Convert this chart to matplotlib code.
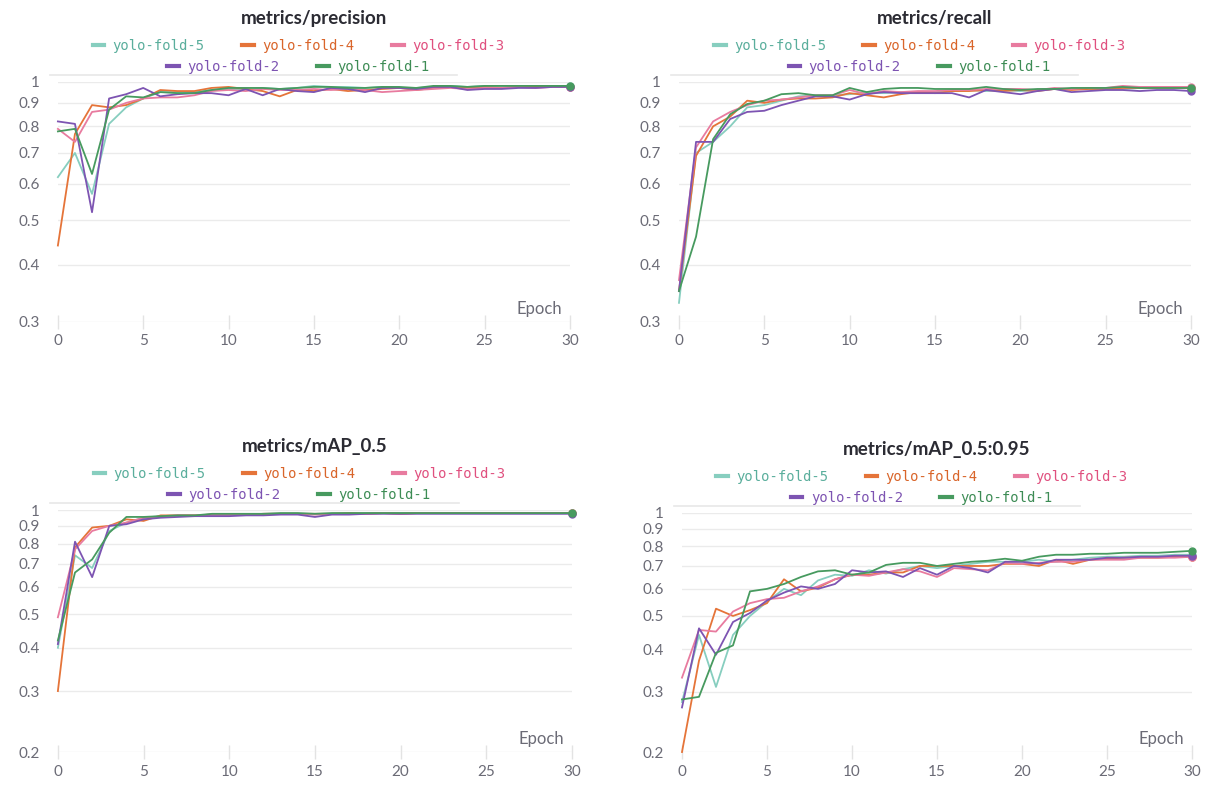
import numpy as np
import matplotlib
matplotlib.use("Agg")
import matplotlib.pyplot as plt
from matplotlib.lines import Line2D

# data (epoch 0..30)
epochs = np.arange(31)
runs = ["yolo-fold-5", "yolo-fold-4", "yolo-fold-3", "yolo-fold-2", "yolo-fold-1"]
line_colors = ["#87CEBF", "#E57439", "#E87B9F", "#7D54B2", "#479A5F"]
text_colors = ["#5aae9c", "#d9652a", "#e0507f", "#7d54b2", "#3d8c55"]

precision = [
    [0.62, 0.70, 0.57, 0.81, 0.88, 0.92, 0.95, 0.95, 0.95, 0.96, 0.965, 0.96, 0.97, 0.965, 0.97, 0.98,
     0.975, 0.975, 0.97, 0.975, 0.97, 0.97, 0.975, 0.98, 0.975, 0.98, 0.98, 0.98, 0.98, 0.98, 0.98],
    [0.44, 0.77, 0.89, 0.88, 0.89, 0.92, 0.96, 0.955, 0.955, 0.97, 0.975, 0.965, 0.955, 0.93, 0.96, 0.955,
     0.965, 0.955, 0.96, 0.965, 0.97, 0.96, 0.97, 0.975, 0.97, 0.975, 0.97, 0.975, 0.975, 0.975, 0.975],
    [0.79, 0.74, 0.86, 0.87, 0.90, 0.92, 0.925, 0.925, 0.935, 0.955, 0.96, 0.955, 0.965, 0.96, 0.96, 0.965,
     0.96, 0.965, 0.96, 0.95, 0.955, 0.96, 0.965, 0.97, 0.965, 0.97, 0.97, 0.975, 0.97, 0.975, 0.975],
    [0.82, 0.81, 0.52, 0.92, 0.94, 0.97, 0.93, 0.94, 0.945, 0.945, 0.935, 0.965, 0.935, 0.965, 0.955, 0.95,
     0.97, 0.965, 0.95, 0.97, 0.97, 0.965, 0.975, 0.975, 0.96, 0.965, 0.965, 0.97, 0.97, 0.975, 0.975],
    [0.78, 0.79, 0.63, 0.87, 0.93, 0.925, 0.95, 0.945, 0.945, 0.96, 0.97, 0.97, 0.97, 0.965, 0.97, 0.975,
     0.975, 0.97, 0.97, 0.975, 0.975, 0.97, 0.98, 0.98, 0.975, 0.98, 0.98, 0.98, 0.98, 0.98, 0.98],
]

recall = [
    [0.33, 0.70, 0.74, 0.80, 0.88, 0.89, 0.91, 0.93, 0.935, 0.935, 0.94, 0.95, 0.945, 0.95, 0.95, 0.95,
     0.955, 0.96, 0.955, 0.96, 0.955, 0.96, 0.965, 0.965, 0.965, 0.965, 0.965, 0.97, 0.97, 0.97, 0.97],
    [0.35, 0.69, 0.80, 0.84, 0.91, 0.90, 0.915, 0.92, 0.92, 0.925, 0.945, 0.935, 0.925, 0.94, 0.95, 0.945,
     0.955, 0.955, 0.96, 0.955, 0.96, 0.955, 0.965, 0.96, 0.965, 0.965, 0.97, 0.97, 0.97, 0.97, 0.97],
    [0.37, 0.72, 0.82, 0.86, 0.89, 0.91, 0.915, 0.925, 0.935, 0.935, 0.96, 0.94, 0.955, 0.95, 0.955, 0.955,
     0.96, 0.96, 0.965, 0.965, 0.965, 0.96, 0.97, 0.965, 0.97, 0.97, 0.98, 0.975, 0.975, 0.975, 0.975],
    [0.35, 0.74, 0.74, 0.83, 0.86, 0.865, 0.89, 0.91, 0.93, 0.93, 0.915, 0.94, 0.95, 0.945, 0.945, 0.945,
     0.945, 0.925, 0.96, 0.95, 0.94, 0.955, 0.965, 0.95, 0.955, 0.96, 0.96, 0.955, 0.96, 0.96, 0.955],
    [0.35, 0.46, 0.75, 0.85, 0.895, 0.91, 0.94, 0.945, 0.935, 0.935, 0.97, 0.95, 0.965, 0.97, 0.97, 0.965,
     0.965, 0.965, 0.975, 0.965, 0.96, 0.965, 0.965, 0.97, 0.97, 0.97, 0.975, 0.97, 0.97, 0.97, 0.97],
]

map50 = [
    [0.40, 0.74, 0.68, 0.87, 0.92, 0.95, 0.96, 0.965, 0.965, 0.97, 0.97, 0.97, 0.975, 0.975, 0.975, 0.975,
     0.975, 0.975, 0.98, 0.98, 0.98, 0.98, 0.98, 0.98, 0.98, 0.98, 0.98, 0.98, 0.98, 0.98, 0.98],
    [0.30, 0.78, 0.89, 0.90, 0.94, 0.93, 0.965, 0.965, 0.965, 0.97, 0.97, 0.97, 0.975, 0.975, 0.975, 0.975,
     0.975, 0.98, 0.975, 0.98, 0.975, 0.98, 0.98, 0.98, 0.98, 0.98, 0.98, 0.98, 0.98, 0.98, 0.98],
    [0.49, 0.77, 0.87, 0.90, 0.92, 0.95, 0.955, 0.965, 0.965, 0.97, 0.97, 0.97, 0.975, 0.975, 0.975, 0.97,
     0.975, 0.975, 0.975, 0.98, 0.975, 0.98, 0.98, 0.98, 0.98, 0.98, 0.98, 0.98, 0.98, 0.98, 0.98],
    [0.41, 0.81, 0.64, 0.90, 0.91, 0.94, 0.95, 0.955, 0.96, 0.96, 0.96, 0.965, 0.965, 0.97, 0.97, 0.955,
     0.97, 0.97, 0.975, 0.975, 0.975, 0.975, 0.975, 0.975, 0.975, 0.975, 0.975, 0.975, 0.975, 0.975, 0.975],
    [0.42, 0.66, 0.72, 0.86, 0.955, 0.955, 0.96, 0.965, 0.965, 0.975, 0.975, 0.975, 0.975, 0.98, 0.98, 0.975,
     0.98, 0.98, 0.98, 0.98, 0.98, 0.98, 0.98, 0.98, 0.98, 0.98, 0.98, 0.98, 0.98, 0.98, 0.98],
]

map50_95 = [
    [0.28, 0.44, 0.31, 0.44, 0.50, 0.55, 0.60, 0.575, 0.635, 0.66, 0.655, 0.68, 0.665, 0.685, 0.70, 0.69,
     0.70, 0.71, 0.72, 0.72, 0.72, 0.73, 0.72, 0.73, 0.74, 0.745, 0.745, 0.75, 0.75, 0.755, 0.755],
    [0.20, 0.37, 0.525, 0.50, 0.52, 0.545, 0.64, 0.59, 0.605, 0.64, 0.66, 0.66, 0.67, 0.67, 0.70, 0.70,
     0.70, 0.70, 0.70, 0.71, 0.71, 0.70, 0.73, 0.71, 0.73, 0.735, 0.74, 0.74, 0.74, 0.745, 0.745],
    [0.33, 0.455, 0.45, 0.515, 0.545, 0.56, 0.565, 0.59, 0.61, 0.64, 0.66, 0.655, 0.67, 0.685, 0.675, 0.65,
     0.69, 0.685, 0.68, 0.715, 0.71, 0.715, 0.72, 0.72, 0.73, 0.73, 0.73, 0.74, 0.74, 0.74, 0.745],
    [0.27, 0.46, 0.385, 0.48, 0.51, 0.555, 0.585, 0.61, 0.60, 0.62, 0.68, 0.67, 0.675, 0.65, 0.69, 0.66,
     0.70, 0.69, 0.67, 0.72, 0.72, 0.71, 0.73, 0.73, 0.73, 0.74, 0.74, 0.745, 0.745, 0.75, 0.75],
    [0.285, 0.29, 0.39, 0.41, 0.59, 0.60, 0.62, 0.65, 0.675, 0.68, 0.66, 0.67, 0.705, 0.715, 0.715, 0.70,
     0.71, 0.72, 0.725, 0.735, 0.725, 0.745, 0.755, 0.755, 0.76, 0.76, 0.765, 0.765, 0.765, 0.77, 0.775],
]

panels = [
    ("metrics/precision", precision, 0.3, [0.048, 0.590, 0.4245, 0.3057]),
    ("metrics/recall", recall, 0.3, [0.563, 0.590, 0.4245, 0.3057]),
    ("metrics/mAP_0.5", map50, 0.2, [0.048, 0.042, 0.4262, 0.3083]),
    ("metrics/mAP_0.5:0.95", map50_95, 0.2, [0.5655, 0.042, 0.4229, 0.3045]),
]

plt.rcParams['font.family'] = ['Lato', 'DejaVu Sans']
tick_col = "#6b6b76"
grid_col = "#ebebeb"
mono = {'family': 'DejaVu Sans Mono', 'size': 10}
leg_kw = dict(loc='lower center', frameon=False, prop=mono, handlelength=0.85,
              handletextpad=0.6, columnspacing=2.7, borderpad=0, borderaxespad=0)

fig = plt.figure(figsize=(12.06, 7.85), dpi=100)

for title, series, ymin, pos in panels:
    ax = fig.add_axes(pos)
    for i in range(5):
        ax.plot(epochs, series[i], color=line_colors[i], lw=1.3, label=runs[i],
                marker='o', markevery=[-1], markersize=5, clip_on=False)
    ax.set_yscale('log')
    ax.set_ylim(ymin, 1.0)
    ax.set_xlim(0, 30)
    yt = np.round(np.arange(ymin, 1.001, 0.1), 1)
    ax.set_yticks(yt)
    ax.set_yticklabels(["1" if v == 1.0 else f"{v:.1f}" for v in yt])
    ax.yaxis.set_minor_locator(matplotlib.ticker.NullLocator())
    ax.set_xticks([0, 5, 10, 15, 20, 25, 30])
    ax.grid(axis='y', color=grid_col, lw=1)
    ax.set_axisbelow(True)
    for s in ax.spines.values():
        s.set_visible(False)
    ax.tick_params(axis='y', length=0, pad=13, labelsize=11, labelcolor=tick_col)
    ax.tick_params(axis='x', direction='inout', length=10, width=1, color="#e3e3e3",
                   pad=4, labelsize=11, labelcolor=tick_col)
    ax.text(0.985, 0.02, "Epoch", transform=ax.transAxes, ha='right', va='bottom',
            fontsize=12, color=tick_col)
    ax.set_title(title, fontsize=13.5, fontweight='bold', color="#2b2b33", pad=42)

    handles = [Line2D([], [], color=line_colors[i], lw=3) for i in range(5)]
    leg1 = ax.legend(handles[:3], runs[:3], ncol=3, bbox_to_anchor=(0.47, 1.12),
                     labelcolor=text_colors[:3], **leg_kw)
    ax.add_artist(leg1)
    ax.legend(handles[3:], runs[3:], ncol=2, bbox_to_anchor=(0.47, 1.033),
              labelcolor=text_colors[3:], **leg_kw)
    ax.plot([-0.015, 0.78], [1.03, 1.03], transform=ax.transAxes, color="#e8e8e8",
            lw=1.2, clip_on=False)

fig.savefig("out.png", dpi=100, facecolor='white')
